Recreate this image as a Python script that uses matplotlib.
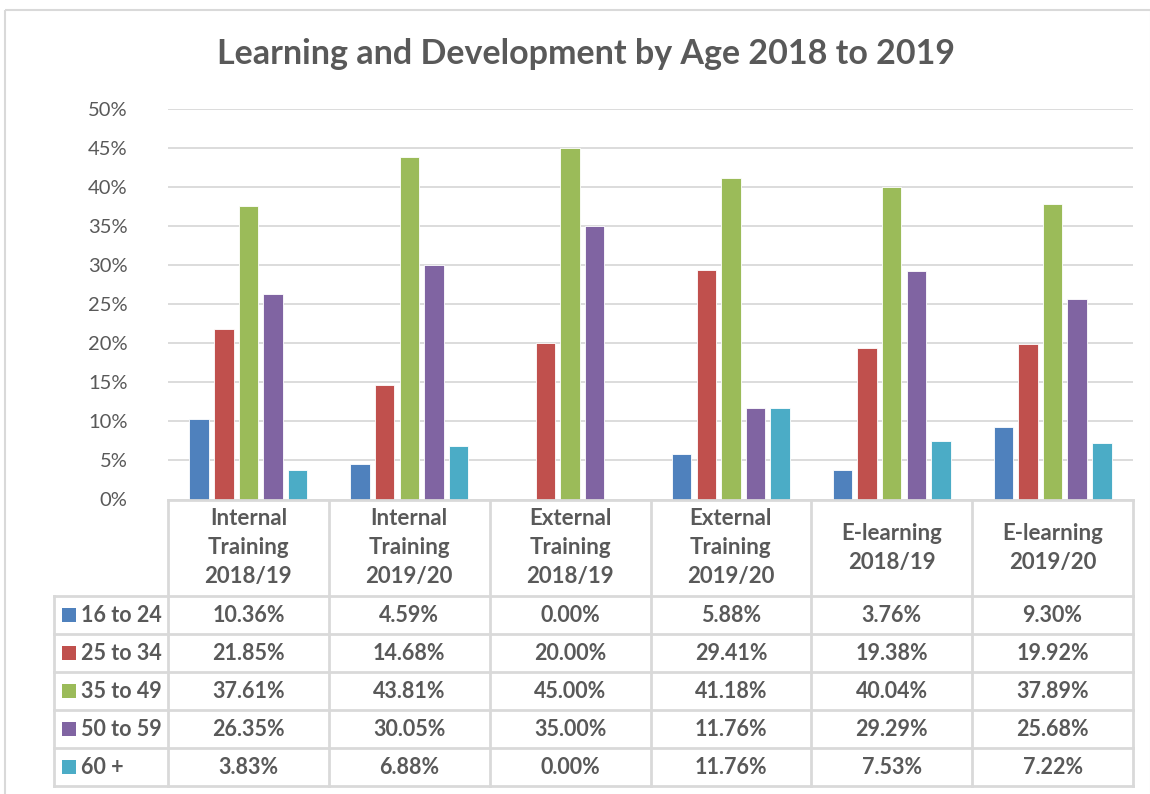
import matplotlib
matplotlib.use('Agg')
import matplotlib.pyplot as plt
from matplotlib.patches import Rectangle
import numpy as np

categories = ["Internal\nTraining\n2018/19", "Internal\nTraining\n2019/20",
              "External\nTraining\n2018/19", "External\nTraining\n2019/20",
              "E-learning\n2018/19", "E-learning\n2019/20"]
age_groups = ["16 to 24", "25 to 34", "35 to 49", "50 to 59", "60 +"]
age_16_24 = [10.36, 4.59, 0.00, 5.88, 3.76, 9.30]
age_25_34 = [21.85, 14.68, 20.00, 29.41, 19.38, 19.92]
age_35_49 = [37.61, 43.81, 45.00, 41.18, 40.04, 37.89]
age_50_59 = [26.35, 30.05, 35.00, 11.76, 29.29, 25.68]
age_60_plus = [3.83, 6.88, 0.00, 11.76, 7.53, 7.22]
series = [age_16_24, age_25_34, age_35_49, age_50_59, age_60_plus]
colors = ['#4F81BD', '#C0504D', '#9BBB59', '#8064A2', '#4BACC6']

TEXT = '#595959'
GRID = '#D9D9D9'
W, H = 1150, 794

fig = plt.figure(figsize=(W / 100, H / 100), dpi=100)
fig.patch.set_facecolor('white')

# plot area in pixel terms
px_left, px_right = 168, 1133
px_top, px_bottom = 109, 499.5
ax = fig.add_axes([px_left / W, 1 - px_bottom / H,
                   (px_right - px_left) / W, (px_bottom - px_top) / H])

n_cat = len(categories)
x = np.arange(n_cat)
bar_w = 0.121
pitch = 0.153
for i, (vals, c) in enumerate(zip(series, colors)):
    offs = (i - 2) * pitch
    ax.bar(x + offs, vals, width=bar_w, color=c, edgecolor='white',
           linewidth=0.6, zorder=3)

ax.set_xlim(-0.5, n_cat - 0.5)
ax.set_ylim(0, 50)
ax.set_yticks(np.arange(0, 51, 5))
ax.set_yticklabels([f'{v}%' for v in range(0, 51, 5)])
ax.tick_params(axis='y', length=0, pad=29, labelsize=14.5, labelcolor=TEXT)
ax.set_xticks([])
ax.grid(axis='y', color=GRID, linewidth=1.3, zorder=0)
for s in ax.spines.values():
    s.set_visible(False)
for lbl in ax.get_yticklabels():
    lbl.set_fontfamily('Lato')

# overlay in pixel coordinates for title, table and border
ov = fig.add_axes([0, 0, 1, 1], zorder=5)
ov.set_xlim(0, W)
ov.set_ylim(H, 0)
ov.axis('off')
ov.patch.set_alpha(0)

# chart border
ov.add_patch(Rectangle((5, 10), W - 4, H, fill=False, edgecolor=GRID, linewidth=1.5))

ov.text(586, 54, "Learning and Development by Age 2018 to 2019", ha='center',
        va='center', fontsize=24.5, fontweight='bold', color=TEXT, family='Lato')

# data table
col_edges = np.linspace(px_left, px_right, n_cat + 1)
row_top = px_bottom
header_bottom = 596
row_h = 38
n_rows = len(series)
table_bottom = header_bottom + n_rows * row_h
leg_left = 54
lw = 2.0

ov.plot([px_left, px_right], [row_top, row_top], color=GRID, lw=lw)
for xe in col_edges:
    ov.plot([xe, xe], [row_top, table_bottom], color=GRID, lw=lw)
ov.plot([leg_left, leg_left], [header_bottom, table_bottom], color=GRID, lw=lw)
for r in range(n_rows + 1):
    yy = header_bottom + r * row_h
    ov.plot([leg_left, px_right], [yy, yy], color=GRID, lw=lw)

for j, cat in enumerate(categories):
    cx = (col_edges[j] + col_edges[j + 1]) / 2
    ov.text(cx, (row_top + header_bottom) / 2, cat, ha='center', va='center',
            fontsize=16, fontweight='bold', color=TEXT, family='Lato',
            linespacing=1.47)

for r, (name, vals, c) in enumerate(zip(age_groups, series, colors)):
    cy = header_bottom + r * row_h + row_h / 2
    ov.add_patch(Rectangle((62, cy - 7), 14, 14, facecolor=c, edgecolor='none'))
    ov.text(81, cy + 1, name, ha='left', va='center', fontsize=15.5,
            fontweight='bold', color=TEXT, family='Lato')
    for j, v in enumerate(vals):
        cx = (col_edges[j] + col_edges[j + 1]) / 2
        ov.text(cx, cy + 1, f'{v:.2f}%', ha='center', va='center', fontsize=15.5,
                fontweight='bold', color=TEXT, family='Lato')

fig.savefig('out.png', dpi=100)
